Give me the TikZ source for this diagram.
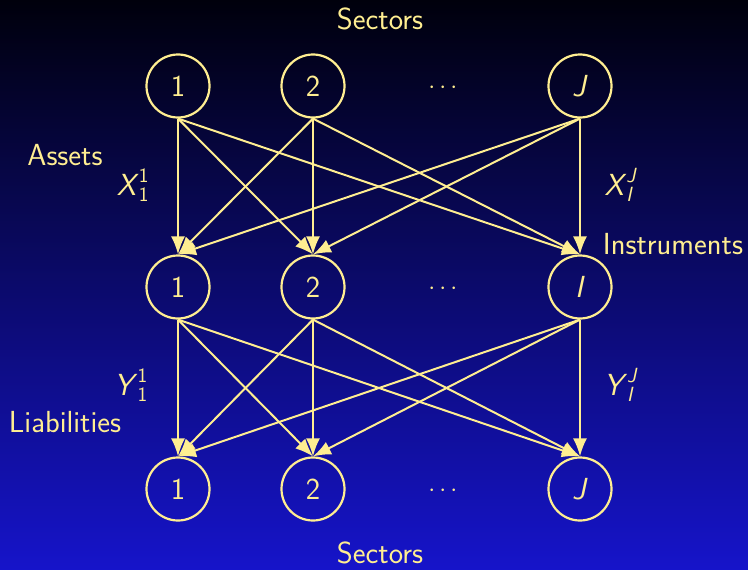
\documentclass[tikz,border=0pt]{standalone}
\usepackage{amsmath}
\usetikzlibrary{arrows.meta}
\definecolor{fg}{RGB}{255,238,145}
\definecolor{topc}{RGB}{0,0,12}
\definecolor{botc}{RGB}{22,20,202}
\newcommand{\scr}[1]{\text{\fontsize{20.5}{20.5}\selectfont\sffamily #1}}
\begin{document}
\begin{tikzpicture}[x=1pt,y=-1pt,
  every node/.style={text=fg,font=\fontsize{30.5}{36}\selectfont\sffamily},
  sect/.style={draw=fg,line width=2.2pt,circle,minimum size=63pt,inner sep=0pt},
  arr/.style={draw=fg,line width=2pt,-{Latex[length=18pt,width=14pt]}}]
\shade[top color=topc,bottom color=botc] (0,0) rectangle (748,570);
\useasboundingbox (0,0) rectangle (748,570);
% top sectors
\node[sect] (t1) at (178,86) {1};
\node[sect] (t2) at (313,86) {2};
\node (td) at (445,88) {$\cdots$};
\node[sect] (tJ) at (580,86) {\textit{J}};
% instruments
\node[sect] (m1) at (178,287) {1};
\node[sect] (m2) at (313,287) {2};
\node (md) at (445,289) {$\cdots$};
\node[sect] (mI) at (580,287) {\textit{I}};
% bottom sectors
\node[sect] (b1) at (178,489) {1};
\node[sect] (b2) at (313,489) {2};
\node (bd) at (445,491) {$\cdots$};
\node[sect] (bJ) at (580,489) {\textit{J}};
% labels
\node (ls1) at (380,19) {Sectors};
\node (ls2) at (380,553) {Sectors};
\node (la) at (65,155) {Assets};
\node (ll) at (65,422) {Liabilities};
\node (li) at (673,244) {Instruments};
\node (lx1) at (133,185) {$\textsf{\textit{X}}^{\scr{1}}_{\scr{1}}$};
\node (lxJ) at (621,185) {$\textsf{\textit{X}}^{\scr{\textit{J}}}_{\scr{\textit{I}}}$};
\node (ly1) at (131,385) {$\textsf{\textit{Y}}^{\scr{1}}_{\scr{1}}$};
\node (lyJ) at (621,385) {$\textsf{\textit{Y}}^{\scr{\textit{J}}}_{\scr{\textit{I}}}$};
% edges
\foreach \s in {t1,t2,tJ}{
  \foreach \t in {m1,m2,mI}{
    \draw[arr] (\s.south) -- (\t.north);
  }
}
\foreach \s in {m1,m2,mI}{
  \foreach \t in {b1,b2,bJ}{
    \draw[arr] (\s.south) -- (\t.north);
  }
}
\end{tikzpicture}
\end{document}
